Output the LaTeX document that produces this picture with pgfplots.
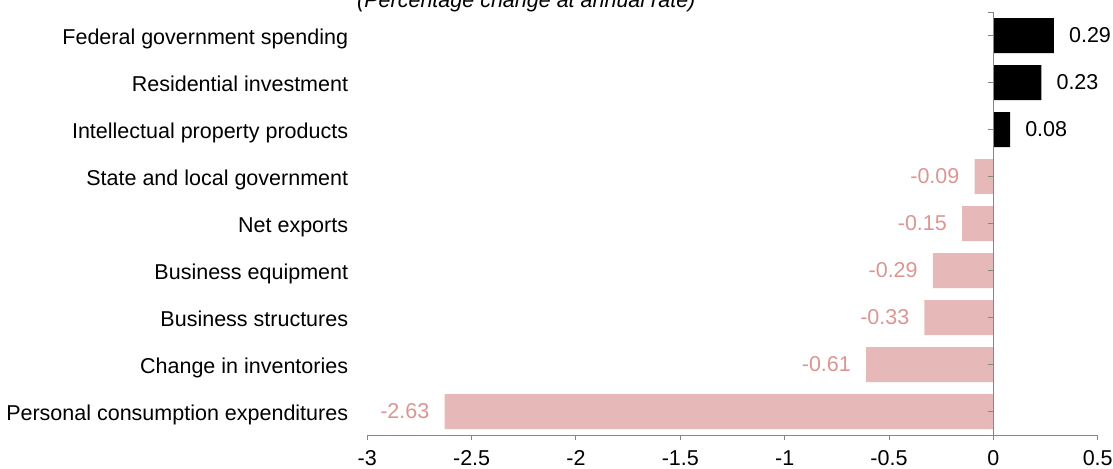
\documentclass[border=0pt]{standalone}
\usepackage{pgfplots}
\pgfplotsset{compat=1.18}
\usepackage{fontspec}
\setmainfont{Liberation Sans}
\definecolor{barpink}{RGB}{230,184,183}
\definecolor{labpink}{RGB}{217,150,148}
\definecolor{axgray}{RGB}{134,134,134}
\newcommand{\cf}{\fontsize{21.5bp}{25bp}\selectfont}
\begin{document}
\begin{tikzpicture}
\begin{axis}[
  at={(367.3bp,-435bp)}, anchor=south west,
  scale only axis, width=730.4bp, height=423bp,
  xmin=-3, xmax=0.5, ymin=0.5, ymax=9.5,
  xbar, bar width=35bp, bar shift=0pt,
  axis x line*=bottom, axis y line*=left,
  x axis line style={axgray, line width=1bp},
  y axis line style={draw=none},
  xtick={-3,-2.5,-2,-1.5,-1,-0.5,0,0.5},
  xtick align=outside, major tick length=5bp,
  xtick style={axgray, line width=1bp},
  ytick={1,2,3,4,5,6,7,8,9}, ytick style={draw=none},
  yticklabels={Personal consumption expenditures, Change in inventories, Business structures, Business equipment, Net exports, State and local government, Intellectual property products, Residential investment, Federal government spending},
  yticklabel style={font=\cf, anchor=base east, inner sep=0pt, xshift=-14bp, yshift=-8.5bp},
  xticklabel style={font=\cf, yshift=-7bp},
  /pgf/number format/assume math mode=true,
  clip=false,
  nodes near coords={\pgfmathprintnumber[fixed,precision=2,fixed zerofill,assume math mode=true]{\pgfplotspointmeta}},
]
\addplot[fill=black, draw=none,
  every node near coord/.append style={font=\cf, text=black, anchor=west, inner sep=0pt, xshift=15bp}]
  coordinates {(0.29,9) (0.23,8) (0.08,7)};
\addplot[fill=barpink, draw=none,
  every node near coord/.append style={font=\cf, text=labpink, anchor=east, inner sep=0pt, xshift=-15bp}]
  coordinates {(-0.09,6) (-0.15,5) (-0.29,4) (-0.33,3) (-0.61,2) (-2.63,1)};
\draw[axgray, line width=1bp] ([xshift=-5bp]axis cs:0,9.5) -- (axis cs:0,9.5) -- (axis cs:0,0.5);
\pgfplotsinvokeforeach{1,2,3,4,5,6,7,8,9}{\draw[axgray, line width=1bp] (axis cs:0,#1) -- ([xshift=-5bp]axis cs:0,#1);}
\end{axis}
\node[anchor=base west, font=\cf\itshape, inner sep=0pt] at (357bp,-7bp) {(Percentage change at annual rate)};
\pgfresetboundingbox
\useasboundingbox (0,0) rectangle (1113bp,-469bp);
\end{tikzpicture}
\end{document}
